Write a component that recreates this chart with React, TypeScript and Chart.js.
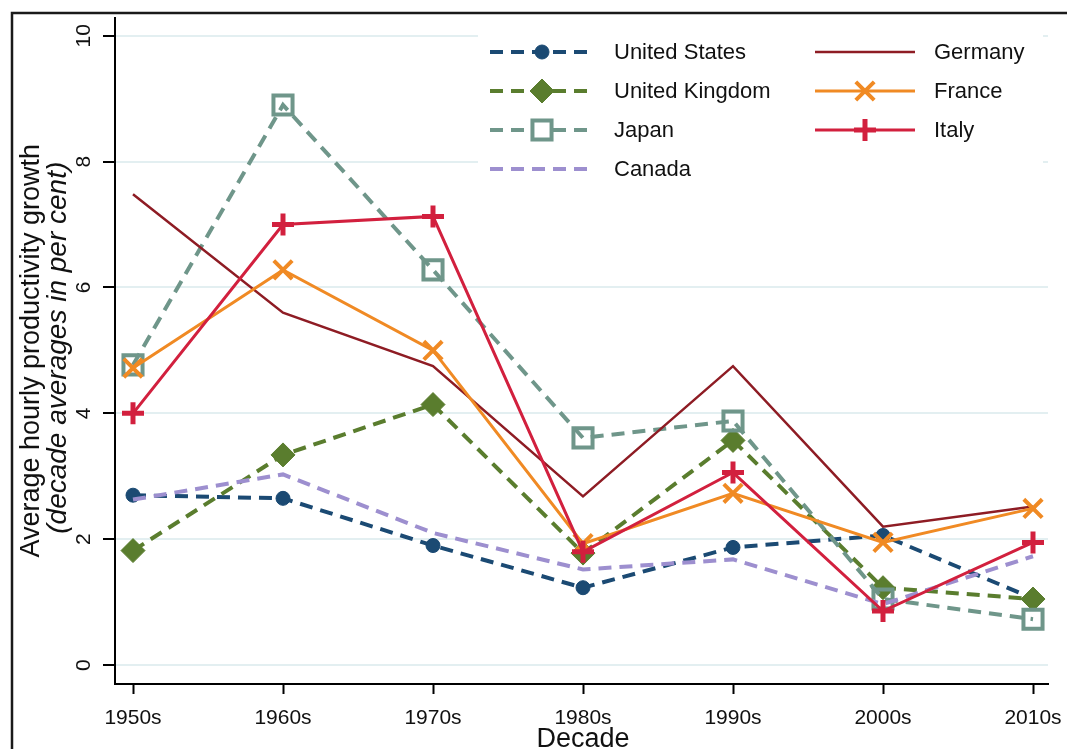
import React, { useEffect, useRef } from 'react';
import { Chart, registerables } from 'chart.js';
import { drawPoint } from 'chart.js/helpers';

Chart.register(...registerables);

const decades = ['1950s', '1960s', '1970s', '1980s', '1990s', '2000s', '2010s'];
const yTickValues = [0, 2, 4, 6, 8, 10];

const unitedStates = [2.7, 2.65, 1.9, 1.23, 1.87, 2.06, 1.06];
const unitedKingdom = [1.82, 3.34, 4.14, 1.78, 3.57, 1.23, 1.05];
const japan = [4.77, 8.9, 6.28, 3.61, 3.88, 1.05, 0.73];
const canada = [2.63, 3.03, 2.1, 1.52, 1.68, 0.97, 1.73];
const germany = [7.48, 5.6, 4.75, 2.68, 4.75, 2.2, 2.52];
const france = [4.72, 6.28, 5.0, 1.93, 2.73, 1.95, 2.49];
const italy = [4.0, 7.0, 7.13, 1.8, 3.06, 0.86, 1.95];

const seriesNames = ['United States', 'United Kingdom', 'Japan', 'Canada', 'Germany', 'France', 'Italy'];
const seriesValues = [unitedStates, unitedKingdom, japan, canada, germany, france, italy];
const seriesColors = ['#1b4a73', '#5a7d2e', '#6f968a', '#9d8fcf', '#8e1c24', '#f08a24', '#d2203e'];
const seriesDashed = [true, true, true, true, false, false, false];
const seriesWidth = [4, 4, 4, 4, 2.5, 3, 3];
const seriesMarker: any[] = ['circle', 'rectRot', 'rect', false, false, 'crossRot', 'cross'];
const seriesMarkerRadius = [7, 12, 13.5, 0, 0, 13, 11];
const seriesMarkerBorder = [1, 1, 4, 0, 0, 4, 5];
const seriesMarkerFill = [true, true, false, false, false, false, false];

const FONT = '"Liberation Sans", Arial, Helvetica, sans-serif';

export default function App() {
  const ref = useRef<HTMLCanvasElement>(null);

  useEffect(() => {
    const canvas = ref.current;
    if (!canvas) return;

    const datasets: any[] = seriesNames.map((name, i) => ({
      label: name,
      data: seriesValues[i].map((v, k) => ({ x: k, y: v })),
      borderColor: seriesColors[i],
      backgroundColor: seriesMarkerFill[i] ? seriesColors[i] : 'rgba(0,0,0,0)',
      borderWidth: seriesWidth[i],
      borderDash: seriesDashed[i] ? [13, 8] : [],
      pointStyle: seriesMarker[i],
      pointRadius: seriesMarker[i] ? seriesMarkerRadius[i] : 0,
      pointBorderWidth: seriesMarkerBorder[i],
      pointBorderColor: seriesColors[i],
      pointBackgroundColor: seriesMarkerFill[i] ? seriesColors[i] : 'rgba(0,0,0,0)',
      tension: 0,
      fill: false,
      order: 10 - i,
    }));

    const decor = {
      id: 'decor',
      beforeDraw(chart: any) {
        const ctx = chart.ctx;
        ctx.save();
        ctx.fillStyle = '#ffffff';
        ctx.fillRect(0, 0, chart.width, chart.height);
        ctx.strokeStyle = '#1a1a1a';
        ctx.lineWidth = 2.5;
        ctx.strokeRect(12, 13, 1200, 900);
        ctx.restore();
      },
      afterDatasetsDraw(chart: any) {
        const ctx = chart.ctx;
        ctx.save();
        ctx.fillStyle = '#ffffff';
        ctx.fillRect(478, 24, 565, 168);
        const rows = [52, 91, 130, 169];
        seriesNames.forEach((name, i) => {
          const col = i < 4 ? 0 : 1;
          const row = i < 4 ? i : i - 4;
          const y = rows[row];
          const x0 = col === 0 ? 490 : 815;
          const x1 = col === 0 ? 595 : 915;
          const xm = col === 0 ? 542 : 865;
          const xt = col === 0 ? 614 : 934;
          ctx.save();
          ctx.strokeStyle = seriesColors[i];
          ctx.lineWidth = seriesWidth[i];
          ctx.setLineDash(seriesDashed[i] ? [13, 8] : []);
          ctx.beginPath();
          ctx.moveTo(x0, y);
          ctx.lineTo(x1, y);
          ctx.stroke();
          ctx.setLineDash([]);
          if (seriesMarker[i]) {
            ctx.fillStyle = seriesMarkerFill[i] ? seriesColors[i] : '#ffffff';
            ctx.strokeStyle = seriesColors[i];
            ctx.lineWidth = seriesMarkerBorder[i];
            drawPoint(ctx, {
              pointStyle: seriesMarker[i],
              radius: seriesMarkerRadius[i],
              rotation: 0,
              borderWidth: seriesMarkerBorder[i],
            } as any, xm, y);
          }
          ctx.restore();
          ctx.fillStyle = '#111111';
          ctx.font = `22px ${FONT}`;
          ctx.textAlign = 'left';
          ctx.textBaseline = 'middle';
          ctx.fillText(name, xt, y + 1);
        });
        ctx.restore();
      },
      afterDraw(chart: any) {
        const ctx = chart.ctx;
        const yScale = chart.scales.y;
        ctx.save();
        ctx.fillStyle = '#111111';
        ctx.textAlign = 'center';
        ctx.textBaseline = 'middle';
        ctx.font = `21px ${FONT}`;
        yTickValues.forEach((v) => {
          const py = yScale.getPixelForValue(v);
          ctx.save();
          ctx.translate(84, py);
          ctx.rotate(-Math.PI / 2);
          ctx.fillText(String(v), 0, 0);
          ctx.restore();
        });
        const cy = (chart.chartArea.top + chart.chartArea.bottom) / 2;
        ctx.save();
        ctx.translate(32, cy);
        ctx.rotate(-Math.PI / 2);
        ctx.font = `27px ${FONT}`;
        ctx.fillText('Average hourly productivity growth', 0, 0);
        ctx.restore();
        ctx.save();
        ctx.translate(58, cy - 3);
        ctx.rotate(-Math.PI / 2);
        ctx.font = `italic 28px ${FONT}`;
        ctx.fillText('(decade averages in per cent)', 0, 0);
        ctx.restore();
        ctx.font = `27px ${FONT}`;
        ctx.fillText('Decade', 583, 740);
        ctx.restore();
      },
    };

    const chart = new Chart(canvas, {
      type: 'line',
      data: { datasets },
      options: {
        animation: false,
        responsive: false,
        devicePixelRatio: 1,
        layout: { padding: { top: 17, right: 19, left: 0, bottom: 0 } },
        plugins: { legend: { display: false }, tooltip: { enabled: false } },
        scales: {
          x: {
            type: 'linear',
            min: -0.12,
            max: 6.1,
            afterBuildTicks: (s: any) => {
              s.ticks = decades.map((_, i) => ({ value: i }));
            },
            afterFit: (s: any) => {
              s.height = 65;
              s.paddingLeft = 0;
              s.paddingRight = 0;
            },
            ticks: {
              autoSkip: false,
              maxRotation: 0,
              minRotation: 0,
              padding: 12,
              color: '#111111',
              font: { family: FONT, size: 21 },
              callback: (v: any) => decades[v] ?? '',
            },
            grid: { drawOnChartArea: false, tickLength: 10, tickColor: '#000000', tickWidth: 2 },
            border: { color: '#000000', width: 2 },
          },
          y: {
            type: 'linear',
            min: -0.3,
            max: 10.29,
            afterBuildTicks: (s: any) => {
              s.ticks = yTickValues.map((v) => ({ value: v }));
            },
            afterFit: (s: any) => {
              s.width = 115;
            },
            ticks: { display: false },
            grid: { color: '#e3eff1', lineWidth: 2, tickLength: 12, tickColor: '#000000', tickWidth: 2 },
            border: { color: '#000000', width: 2 },
          },
        },
      },
      plugins: [decor],
    } as any);

    return () => chart.destroy();
  }, []);

  return (
    <div style={{ position: 'absolute', left: 0, top: 0, width: 1067, height: 749 }}>
      <canvas ref={ref} width={1067} height={749} style={{ width: 1067, height: 749 }} />
    </div>
  );
}
